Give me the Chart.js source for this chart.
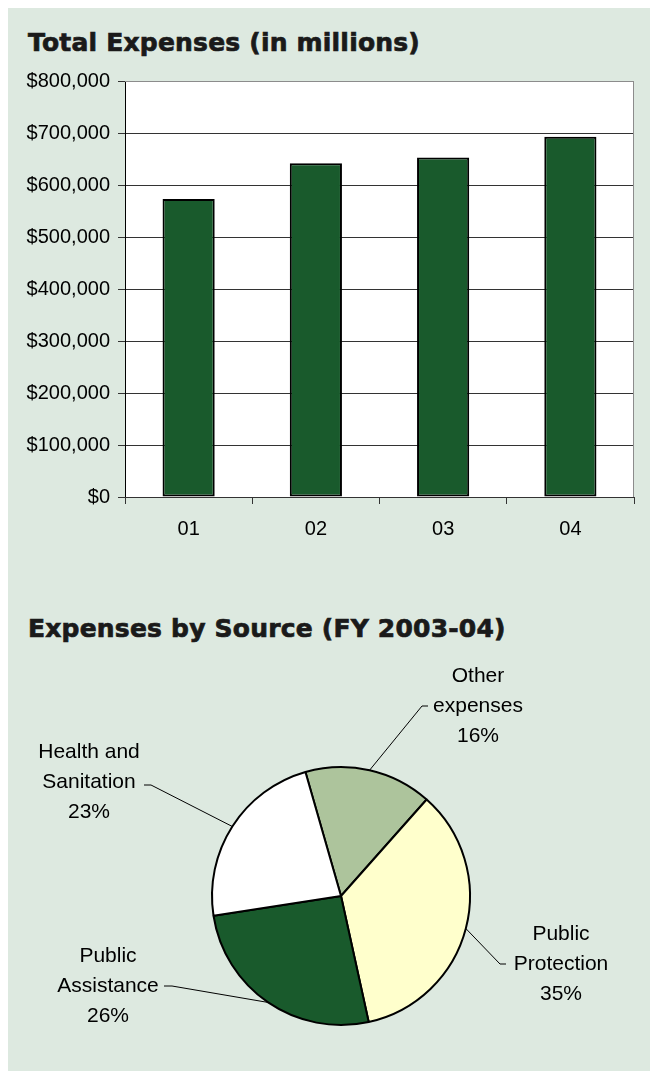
<!DOCTYPE html>
<html>
<head>
<meta charset="utf-8">
<script src="https://cdn.jsdelivr.net/npm/chart.js@4.4.1/dist/chart.umd.min.js"></script>
<style>
  html, body { margin: 0; padding: 0; background: #fff; }
  body { width: 650px; height: 1076px; position: relative; overflow: hidden; font-family: 'Liberation Sans', Arial, sans-serif; }
  #panel { position: absolute; left: 8px; top: 8px; width: 642px; height: 1063px; background: #dde9e0; }
  .title { position: absolute; left: 28px; font-family: 'DejaVu Sans', sans-serif; font-weight: bold; font-size: 25px; line-height: 25px; color: #1a1a1a; white-space: nowrap; letter-spacing: 0.2px; -webkit-text-stroke: 0.7px #1a1a1a; }
  #t1 { top: 30px; }
  #t2 { top: 616px; }
  #barBox { position: absolute; left: 0; top: 60px; width: 650px; height: 500px; }
  #pieBox { position: absolute; left: 0; top: 640px; width: 650px; height: 430px; }
</style>
</head>
<body>
<div id="panel"></div>
<div class="title" id="t1">Total Expenses (in millions)</div>
<div class="title" id="t2">Expenses by Source (FY 2003-04)</div>
<div id="barBox"><canvas id="barChart"></canvas></div>
<div id="pieBox"><canvas id="pieChart"></canvas></div>

<script>
// bar chart data
const years = ["01", "02", "03", "04"];
const totalExpenses = [573000, 642000, 653000, 693000];
const yMax = 800000;
const yStep = 100000;

// pie chart data
const sources = ["Other expenses", "Public Protection", "Public Assistance", "Health and Sanitation"];
const sourceLines = [["Other", "expenses"], ["Public", "Protection"], ["Public", "Assistance"], ["Health and", "Sanitation"]];
const sourceShares = [16, 35, 26, 23];

Chart.defaults.font.family = "'Liberation Sans', Arial, sans-serif";
Chart.defaults.font.size = 20;
Chart.defaults.color = "#000";

// white plot area with grey frame on top / right, like excel
const plotFrame = {
    id: "plotFrame",
    beforeDraw(chart) {
        const a = chart.chartArea, ctx = chart.ctx;
        ctx.save();
        ctx.fillStyle = "#fff";
        ctx.fillRect(a.left, a.top, a.right - a.left, a.bottom - a.top);
        ctx.restore();
    },
    afterDraw(chart) {
        const a = chart.chartArea, ctx = chart.ctx;
        ctx.save();
        ctx.strokeStyle = "#8c8c8c";
        ctx.lineWidth = 1;
        ctx.beginPath();
        ctx.moveTo(a.left, a.top + 0.5);
        ctx.lineTo(a.right - 0.5, a.top + 0.5);
        ctx.lineTo(a.right - 0.5, a.bottom);
        ctx.stroke();
        ctx.restore();
    }
};

let barChart = new Chart(document.getElementById("barChart"), {
    type: "bar",
    data: {
        labels: years,
        datasets: [{
            data: totalExpenses,
            backgroundColor: "#195a2c",
            borderColor: "#000",
            borderWidth: 2,
            borderSkipped: false,
            barPercentage: 0.41,
            categoryPercentage: 1
        }]
    },
    options: {
        responsive: true,
        maintainAspectRatio: false,
        animation: false,
        layout: { padding: { top: 21, right: 16, left: 0, bottom: 0 } },
        plugins: { legend: { display: false }, tooltip: { enabled: false } },
        scales: {
            y: {
                min: 0,
                max: yMax,
                ticks: {
                    stepSize: yStep,
                    padding: 8,
                    callback: v => "$" + v.toLocaleString("en-US")
                },
                grid: {
                    color: c => (c.tick && c.tick.value === yMax) ? "#8c8c8c" : "#333",
                    tickColor: "#333",
                    tickLength: 7
                },
                border: { color: "#000" },
                afterFit: s => { s.width = 125; }
            },
            x: {
                ticks: { padding: 13 },
                grid: { drawOnChartArea: false, offset: true, tickLength: 7, color: "#333" },
                border: { color: "#333" },
                afterFit: s => { s.height = 63; }
            }
        }
    },
    plugins: [plotFrame]
});

// leader-line labels for the pie (canvas coords)
const pieLabelSpots = [
    { x: 478, y: 36, ax: 422, ay: 66, tx: 428 },
    { x: 561, y: 294, ax: 500, ay: 324, tx: 506 },
    { x: 108, y: 316, ax: 172, ay: 346, tx: 164 },
    { x: 89, y: 112, ax: 151, ay: 145, tx: 144 }
];

const pieLabels = {
    id: "pieLabels",
    afterDraw(chart) {
        const ctx = chart.ctx;
        const arcs = chart.getDatasetMeta(0).data;
        ctx.save();
        ctx.strokeStyle = "#000";
        ctx.lineWidth = 1;
        ctx.fillStyle = "#000";
        ctx.font = "21px 'Liberation Sans', Arial, sans-serif";
        ctx.textAlign = "center";
        ctx.textBaseline = "middle";
        arcs.forEach((arc, i) => {
            const p = arc.getProps(["x", "y", "startAngle", "endAngle", "outerRadius"], true);
            const mid = (p.startAngle + p.endAngle) / 2;
            const ex = p.x + Math.cos(mid) * p.outerRadius;
            const ey = p.y + Math.sin(mid) * p.outerRadius;
            const s = pieLabelSpots[i];
            ctx.beginPath();
            ctx.moveTo(ex, ey);
            ctx.lineTo(s.ax, s.ay);
            ctx.lineTo(s.tx, s.ay);
            ctx.stroke();
            const lines = sourceLines[i].concat([sourceShares[i] + "%"]);
            lines.forEach((t, k) => ctx.fillText(t, s.x, s.y + k * 30));
        });
        ctx.restore();
    }
};

let pieChart = new Chart(document.getElementById("pieChart"), {
    type: "pie",
    data: {
        labels: sources,
        datasets: [{
            data: sourceShares,
            backgroundColor: ["#adc49c", "#ffffcc", "#195a2c", "#ffffff"],
            borderColor: "#000",
            borderWidth: 2,
            radius: 129
        }]
    },
    options: {
        responsive: true,
        maintainAspectRatio: false,
        animation: false,
        rotation: -16,
        layout: { padding: { left: 32, top: 82, right: 0, bottom: 0 } },
        plugins: { legend: { display: false }, tooltip: { enabled: false } }
    },
    plugins: [pieLabels]
});
</script>
</body>
</html>
